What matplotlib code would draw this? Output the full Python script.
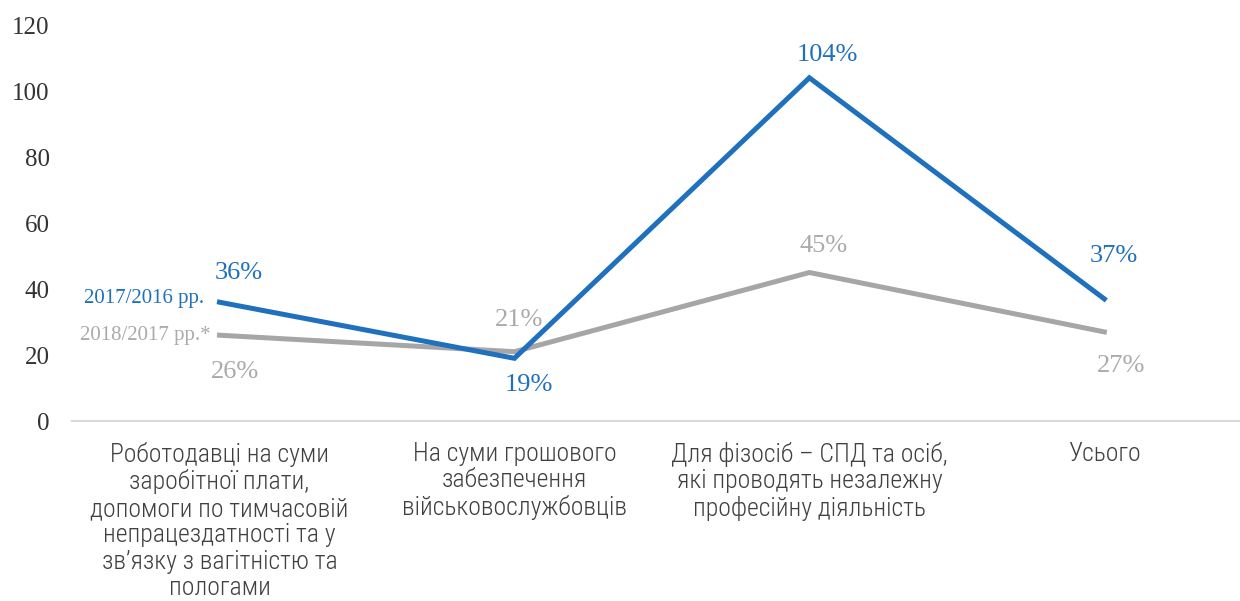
import matplotlib
matplotlib.use("Agg")
import matplotlib.pyplot as plt
from matplotlib import font_manager

categories = [
    "Роботодавці на суми\nзаробітної плати,\nдопомоги по тимчасовій\nнепрацездатності та у\nзв’язку з вагітністю та\nпологами",
    "На суми грошового\nзабезпечення\nвійськовослужбовців",
    "Для фізосіб – СПД та осіб,\nякі проводять незалежну\nпрофесійну діяльність",
    "Усього",
]
series_names = ["2017/2016 рр.", "2018/2017 рр.*"]
blue_vals = [36, 19, 104, 37]
gray_vals = [26, 21, 45, 27]
yticks = [0, 20, 40, 60, 80, 100, 120]

names = {f.name for f in font_manager.fontManager.ttflist}
cat_font = ["Liberation Sans Narrow"] if "Liberation Sans Narrow" in names else ["Roboto Condensed", "Liberation Sans"]
serif_font = ["Liberation Serif", "DejaVu Serif"]

BLUE = "#1F70BD"
GRAY = "#A6A6A6"
GRAY_TXT = "#AAAAAA"

fig = plt.figure(figsize=(12.4, 6.01), dpi=100)
W, H = 1240, 601
ax = fig.add_axes([72 / W, (H - 421) / H, 1 - 72 / W, (421 - 25) / H])

x = list(range(len(categories)))
ax.plot(x, blue_vals, color=BLUE, lw=3.6, solid_joinstyle="miter", zorder=3)
ax.plot(x, gray_vals, color=GRAY, lw=3.6, solid_joinstyle="miter", zorder=2)

ax.set_xlim(-0.5, 3.46)
ax.set_ylim(0, 120)
ax.set_yticks(yticks)
ax.set_yticklabels([str(v) for v in yticks], fontfamily=serif_font, fontsize=18, color="#333333")
ax.tick_params(axis="y", length=0, pad=16)
ax.set_xticks(x)
ax.set_xticklabels(categories, fontfamily=cat_font, fontsize=18.5, fontweight="light",
                   color="#404040", linespacing=1.13)
ax.tick_params(axis="x", length=0, pad=15)
for s in ["top", "right", "left"]:
    ax.spines[s].set_visible(False)
ax.spines["bottom"].set_color("#D9D9D9")
ax.spines["bottom"].set_linewidth(1.5)

blue_off = [(19, 29), (14, -27), (18, 23), (9, 43)]
gray_off = [(16, -37), (5, 32), (14, 27), (17, -34)]
for i in x:
    ax.annotate(f"{blue_vals[i]}%", (i, blue_vals[i]), xytext=blue_off[i], textcoords="offset pixels",
                ha="center", va="center", fontsize=19, color=BLUE, fontfamily=serif_font)
    ax.annotate(f"{gray_vals[i]}%", (i, gray_vals[i]), xytext=gray_off[i], textcoords="offset pixels",
                ha="center", va="center", fontsize=19, color=GRAY_TXT, fontfamily=serif_font)

ax.annotate(series_names[0], (0, blue_vals[0]), xytext=(-15, 4), textcoords="offset pixels",
            ha="right", va="center", fontsize=15, color=BLUE, fontfamily=serif_font)
ax.annotate(series_names[1], (0, gray_vals[0]), xytext=(-9, 0), textcoords="offset pixels",
            ha="right", va="center", fontsize=15, color=GRAY_TXT, fontfamily=serif_font)

fig.savefig("out.png", dpi=100, facecolor="white")
